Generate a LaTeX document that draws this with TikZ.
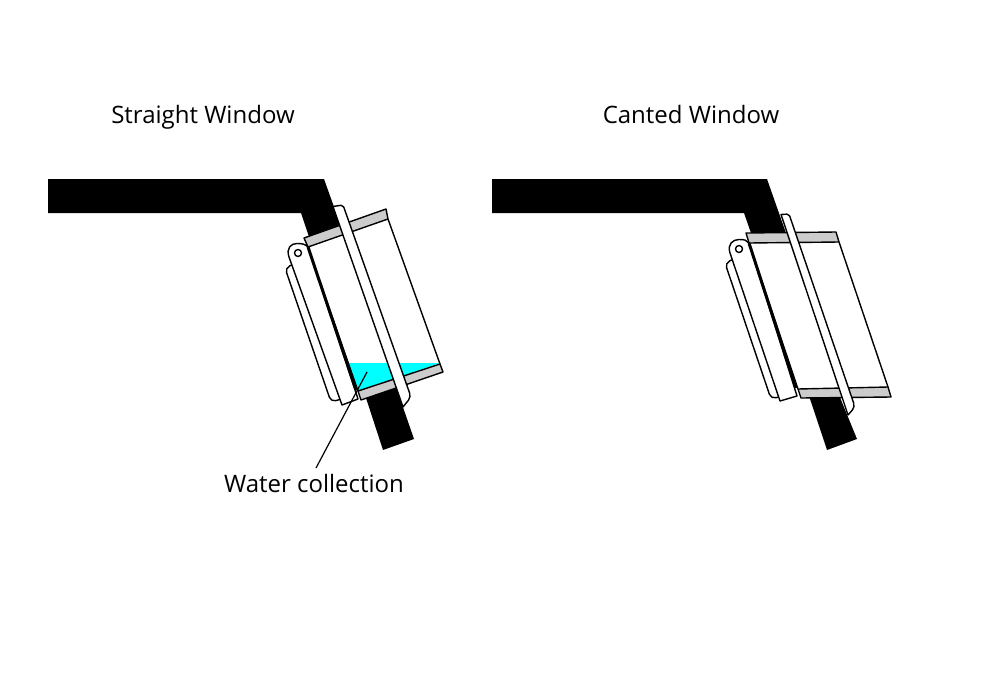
\documentclass[tikz,border=0pt]{standalone}
\usepackage{fontspec}
\setmainfont{Open Sans}
\usepackage{tikz}
\usetikzlibrary{positioning,calc}

\definecolor{pool}{rgb}{0,1,1}

\tikzset{
	outline/.style={draw=black, line width=1.4pt, line join=round},
	wall/.style={fill=black},
	seal/.style={outline, fill=black!20},
	plate/.style={outline, fill=white},
	caption/.style={font=\fontsize{24}{28}\selectfont, inner sep=0pt, anchor=base}
}

\begin{document}
\begin{tikzpicture}[x=1pt, y=-1pt]
	\useasboundingbox (0,0) rectangle (1000,699);

	\node[caption] (straight) at (203, 123) {Straight Window};
	\node[caption] (canted) at (691, 123) {Canted Window};
	\node[caption] (water) at (314, 492) {Water collection};

	% straight window
	\fill[wall] (48,179) -- (324,179) -- (343,232) -- (310,240) -- (301,213) -- (48,213) -- cycle;
	\fill[wall] (366,398) -- (396,387) -- (414,439) -- (383,450) -- cycle;
	\fill[pool] (348,363) -- (440,363) -- (358,391) -- cycle;
	\draw[outline] (308,247) -- (358,391);
	\draw[outline] (388,219) -- (440,364);
	\draw[seal] (304,238) -- (386,209) -- (388,219) -- (308,247) -- cycle;
	\draw[seal] (358,391) -- (440,364) -- (443,372) -- (361,400) -- cycle;
	\draw[plate, rounded corners=5] (345,398) -- (331,402) -- (285,268) -- (296,263) -- cycle;
	\draw[plate] (342,405) -- (289,257) .. controls (286,248) and (291,243.5) .. (297,243.5) .. controls (302,243.5) and (305,244) .. (308,247) -- (358,399) -- cycle;
	\draw[line width=3pt] (308,247) -- (356,390);
	\draw[plate] (298,253) circle[radius=3.5pt];
	\draw[plate] (403,407) -- (333,206.5) [rounded corners=2] -- (343,205) [rounded corners=4] -- (411,397) [sharp corners] -- cycle;
	\coordinate (spill) at (367,372);
	\coordinate (leader) at (316,468);
	\draw[line width=1.2pt] (spill) -- (leader);

	% canted window
	\fill[wall] (492,179) -- (767,179) -- (787,236) -- (752,236) -- (744,213) -- (492,213) -- cycle;
	\fill[wall] (809,396) -- (839,395) -- (857,439) -- (827,450) -- cycle;
	\draw[outline] (749,243) -- (798,389);
	\draw[outline] (839,242) -- (888,387);
	\draw[seal] (746,233) -- (836,232) -- (839,242) -- (749,243) -- cycle;
	\draw[seal] (798,389) -- (888,387) -- (891,397) -- (801,398) -- cycle;
	\draw[plate, rounded corners=5] (790,394) -- (771,399) -- (725,263) -- (736,258) -- cycle;
	\draw[plate] (780,401) -- (730,253) .. controls (727,244) and (733,239.5) .. (739,239.5) .. controls (744,239.5) and (747,240) .. (749,243) -- (797,396) -- cycle;
	\draw[line width=3pt] (749,243) -- (796,388);
	\draw[plate] (739,249) circle[radius=3.5pt];
	\draw[plate] (848,415) -- (781,214.5) [rounded corners=2] -- (789,214) [rounded corners=4] -- (855,407) [sharp corners] -- cycle;
\end{tikzpicture}
\end{document}
